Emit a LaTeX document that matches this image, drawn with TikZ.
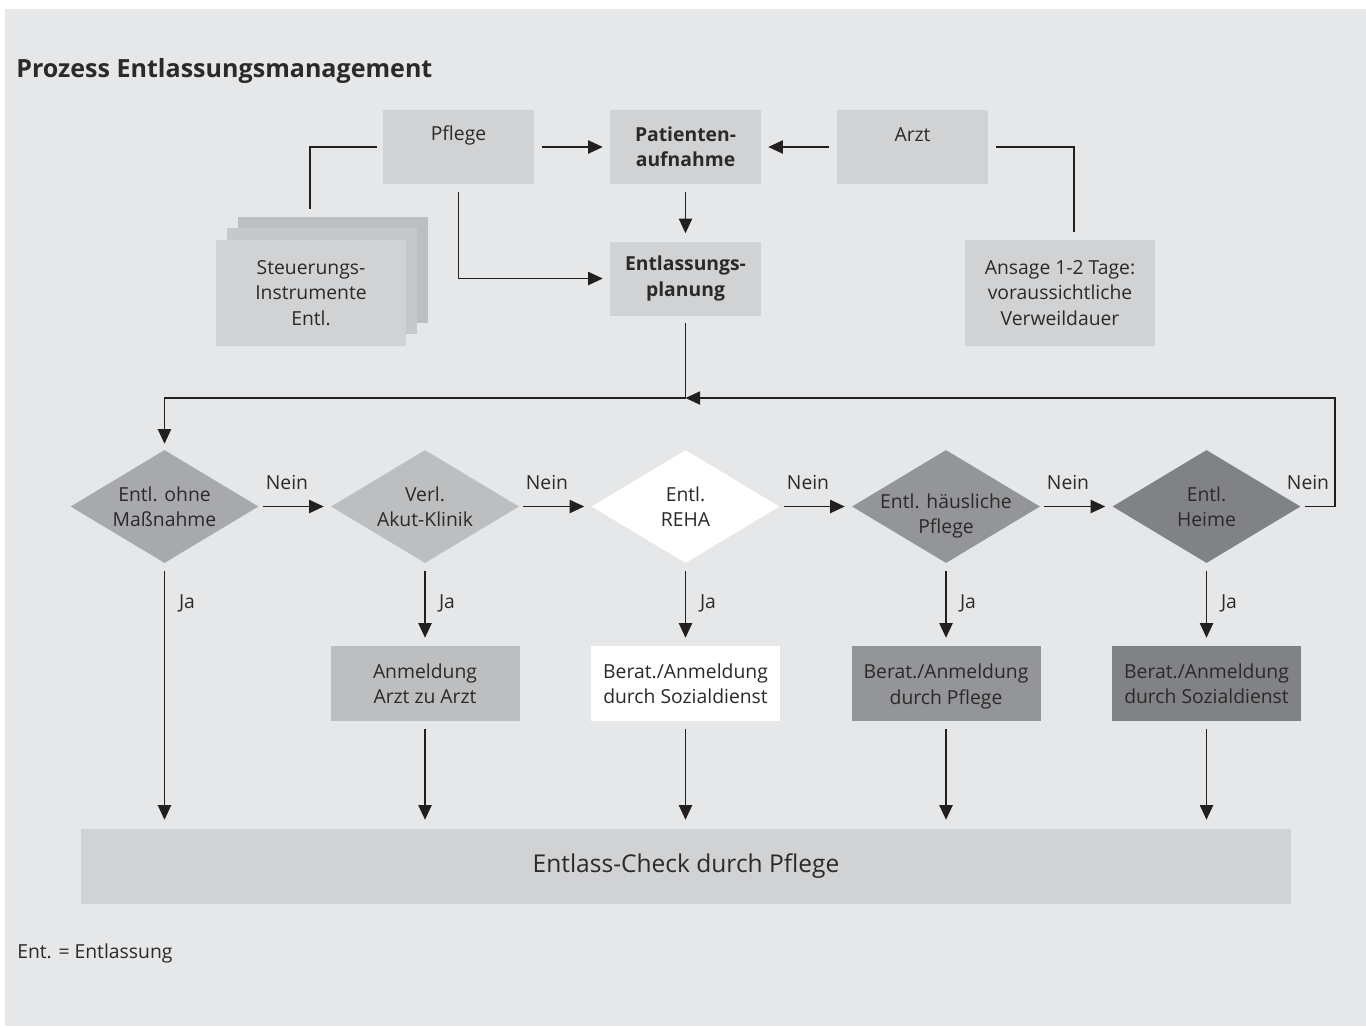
\documentclass[tikz,border=0pt]{standalone}
\usepackage{fontspec}
\setmainfont{Open Sans}
\usetikzlibrary{arrows.meta,shapes.geometric}
\definecolor{bg}{HTML}{E6E7E8}
\definecolor{boxc}{HTML}{D1D2D4}
\definecolor{stackb}{HTML}{BCBEC0}
\definecolor{stackm}{HTML}{C7C8CA}
\definecolor{g1}{HTML}{A7A9AC}
\definecolor{g2}{HTML}{BCBEC0}
\definecolor{g4}{HTML}{939598}
\definecolor{g5}{HTML}{808285}
\definecolor{txt}{HTML}{2B2A29}
\definecolor{lc}{HTML}{231F20}
\begin{document}
\begin{tikzpicture}[x=0.75pt,y=-0.75pt,
  font=\fontsize{14.5}{19}\selectfont, text=txt,
  boxn/.style={rectangle, draw=none, fill=boxc, inner sep=0, align=center},
  sbox/.style={boxn, minimum width=113.25pt, minimum height=55.5pt},
  rbox/.style={boxn, minimum width=141.75pt, minimum height=56.25pt},
  tbox/.style={boxn, minimum width=142.5pt, minimum height=79.5pt},
  dia/.style={diamond, draw=none, inner sep=0, minimum width=141pt, minimum height=84.75pt, aspect=1.66},
  lbl/.style={align=center, inner sep=0},
  ln/.style={draw=lc, line width=0.9pt},
  arr/.style={ln, -{Triangle[length=11pt,width=10pt]}}]
\useasboundingbox (0,0) rectangle (1366,1026);
\fill[bg] (5,9) rectangle (1366,1026);

% title
\node[lbl, anchor=west, font=\fontsize{18.8}{22}\selectfont\bfseries] (title) at (16,71) {Prozess Entlassungsmanagement};

% top boxes
\node[sbox] (pflege) at (458.5,147) {};
\node[lbl] (pflegeT) at (458.5,135) {Pflege};
\node[sbox, font=\fontsize{14.5}{19}\selectfont\bfseries] (aufn) at (685.5,147) {Patienten-\\aufnahme};
\node[sbox] (arzt) at (912.5,147) {};
\node[lbl] (arztT) at (912.5,135) {Arzt};
\node[sbox, font=\fontsize{14.5}{19}\selectfont\bfseries] (planung) at (685.5,278.5) {Entlassungs-\\planung};

% stacked boxes
\node[tbox, fill=stackb] (stackB) at (333,270) {};
\node[tbox, fill=stackm] (stackM) at (322,281) {};
\node[tbox] (stackF) at (311,293) {Steuerungs-\\Instrumente\\Entl.};

\node[tbox] (ansage) at (1060,293) {Ansage 1-2 Tage:\\voraussichtliche\\Verweildauer};

% top connectors
\coordinate (sT) at (310,209);
\coordinate (aT) at (1074,232);
\draw[ln] ([xshift=-4.5pt]pflege.west) -| (sT);
\draw[ln] ([xshift=6pt]arzt.east) -| (aT);
\draw[arr, shorten <=6pt, shorten >=5.25pt] (pflege.east) -- (aufn.west);
\draw[arr, shorten <=6pt, shorten >=5.25pt] (arzt.west) -- (aufn.east);
\draw[arr, shorten <=6pt, shorten >=6pt] (aufn.south) -- (planung.north);
\draw[arr, shorten >=5.25pt] ([yshift=-6pt]pflege.south) |- (planung.west);

% diamonds
\node[dia, fill=g1] (d1) at (164.5,506.5) {};
\node[dia, fill=g2] (d2) at (425,506.5) {};
\node[dia, fill=white] (d3) at (685.5,506.5) {};
\node[dia, fill=g4] (d4) at (946,506.5) {};
\node[dia, fill=g5] (d5) at (1206.5,506.5) {};
\node[lbl] (d1T) at (164.5,506.5) {Entl. ohne\\Maßnahme};
\node[lbl] (d2T) at (425,506.5) {Verl.\\Akut-Klinik};
\node[lbl] (d3T) at (685.5,506.5) {Entl.\\REHA};
\node[lbl] (d4T) at (946,516) {Entl. häusliche\\Pflege};
\node[lbl] (d5T) at (1206.5,506.5) {Entl.\\Heime};

% loop
\coordinate (jn) at (685.5,398);
\coordinate (loopR) at (1335,398);
\draw[arr, shorten >=4.5pt] ([yshift=-5.25pt]planung.south) -- (jn) -| (d1.north);
\draw[arr] ([xshift=3pt]d5.east) -| (loopR) -- (jn);

% Nein arrows
\draw[arr, shorten <=3pt, shorten >=5.25pt] (d1.east) -- (d2.west);
\draw[arr, shorten <=3pt, shorten >=5.25pt] (d2.east) -- (d3.west);
\draw[arr, shorten <=3pt, shorten >=5.25pt] (d3.east) -- (d4.west);
\draw[arr, shorten <=3pt, shorten >=5.25pt] (d4.east) -- (d5.west);
\node[lbl] (n1) at (287,482) {Nein};
\node[lbl] (n2) at (547,482) {Nein};
\node[lbl] (n3) at (808,482) {Nein};
\node[lbl] (n4) at (1068,482) {Nein};
\node[lbl] (n5) at (1308,482) {Nein};

% result boxes
\node[rbox, fill=g2] (r2) at (425,683.5) {Anmeldung\\Arzt zu Arzt};
\node[rbox, fill=white] (r3) at (685.5,683.5) {Berat./Anmeldung\\durch Sozialdienst};
\node[rbox, fill=g4] (r4) at (946,683.5) {};
\node[lbl] (r4T) at (946,686.5) {Berat./Anmeldung\\durch Pflege};
\node[rbox, fill=g5] (r5) at (1206.5,683.5) {Berat./Anmeldung\\durch Sozialdienst};

% check box
\node[boxn, minimum width=907.5pt, minimum height=56.25pt, font=\fontsize{18.4}{22}\selectfont] (check) at (686,866.5) {Entlass-Check durch Pflege};

% Ja arrows
\draw[arr, shorten <=6pt, shorten >=6pt] (d2.south) -- (r2.north);
\draw[arr, shorten <=6pt, shorten >=6pt] (d3.south) -- (r3.north);
\draw[arr, shorten <=6pt, shorten >=6pt] (d4.south) -- (r4.north);
\draw[arr, shorten <=6pt, shorten >=6pt] (d5.south) -- (r5.north);
\draw[arr, shorten <=6pt, shorten >=6.75pt] (d1.south) -- (d1.south |- check.north);
\node[lbl] (j1) at (187,603) {Ja};
\node[lbl] (j2) at (447,603) {Ja};
\node[lbl] (j3) at (708,603) {Ja};
\node[lbl] (j4) at (968,603) {Ja};
\node[lbl] (j5) at (1229,603) {Ja};

\draw[arr, shorten <=6pt, shorten >=6.75pt] (r2.south) -- (r2.south |- check.north);
\draw[arr, shorten <=6pt, shorten >=6.75pt] (r3.south) -- (r3.south |- check.north);
\draw[arr, shorten <=6pt, shorten >=6.75pt] (r4.south) -- (r4.south |- check.north);
\draw[arr, shorten <=6pt, shorten >=6.75pt] (r5.south) -- (r5.south |- check.north);

% footnote
\node[lbl, anchor=west] (foot) at (17,953) {Ent. = Entlassung};
\end{tikzpicture}
\end{document}
